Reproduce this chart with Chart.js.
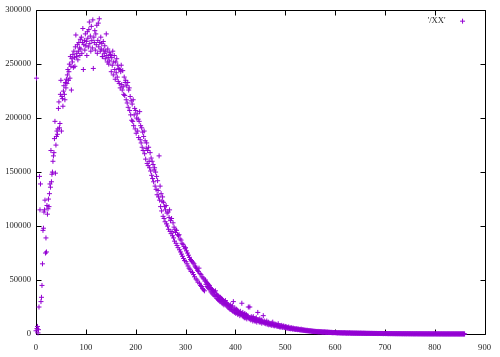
<!DOCTYPE html>
<html>
<head>
<meta charset="utf-8">
<script src="https://cdn.jsdelivr.net/npm/chart.js@4"></script>
<style>
  html, body { margin: 0; padding: 0; background: #fff; }
  canvas { display: block; }
</style>
</head>
<body>
<canvas id="c" width="500" height="357"></canvas>
<script>
// ---- data ----
const seriesLabel = "'/XX'";
const xTicks = [0, 100, 200, 300, 400, 500, 600, 700, 800, 900];
const yTicks = [0, 50000, 100000, 150000, 200000, 250000, 300000];
// counts for bins 0..860 (one value per bin)
const counts = [
  3000, 237000, 5000, 7000, 1000, 4000, 25000, 146000, 115000, 139000,
  30000, 34000, 45000, 65000, 96000, 98000, 113000, 115000, 124000, 75000,
  89000, 76000, 119000, 111000, 116000, 125000, 118000, 130000, 139000, 136000,
  170000, 141000, 148000, 150000, 160000, 165000, 168000, 181000, 197000, 149000,
  175000, 183000, 188000, 185000, 190000, 209000, 215000, 191000, 195000, 222000,
  235000, 188000, 220000, 218000, 211000, 225000, 230000, 222000, 217000, 233000,
  228000, 236000, 232000, 240000, 245000, 235000, 243000, 250000, 237000, 257000,
  248000, 226000, 255000, 252000, 259000, 247000, 262000, 256000, 248000, 266000,
  277000, 257000, 260000, 268000, 254000, 262000, 270000, 265000, 258000, 273000,
  264000, 275000, 260000, 270000, 283000, 245000, 268000, 272000, 263000, 278000,
  267000, 271000, 258000, 280000, 274000, 266000, 282000, 289000, 269000, 276000,
  262000, 285000, 272000, 265000, 291000, 246000, 275000, 270000, 281000, 263000,
  278000, 268000, 286000, 260000, 272000, 288000, 266000, 292000, 270000, 262000,
  275000, 264000, 269000, 257000, 257000, 271000, 263000, 260000, 267000, 255000,
  262000, 278000, 258000, 252000, 264000, 256000, 250000, 261000, 253000, 259000,
  258000, 243000, 256000, 249000, 262000, 240000, 252000, 258000, 245000, 236000,
  252000, 242000, 255000, 238000, 249000, 234000, 246000, 232000, 245000, 228000,
  243000, 249000, 231000, 226000, 244000, 229000, 222000, 238000, 221000, 233000,
  235000, 217000, 230000, 214000, 233000, 210000, 226000, 228000, 207000, 220000,
  203000, 216000, 198000, 213000, 197000, 217000, 193000, 203000, 209000, 190000,
  207000, 186000, 200000, 204000, 188000, 199000, 182000, 197000, 206000, 180000,
  193000, 177000, 191000, 173000, 187000, 170000, 183000, 188000, 167000, 179000,
  162000, 172000, 177000, 158000, 170000, 156000, 173000, 160000, 154000, 168000,
  151000, 163000, 147000, 160000, 144000, 157000, 141000, 152000, 154000, 137000,
  150000, 134000, 146000, 129000, 142000, 133000, 127000, 165000, 124000, 137000,
  118000, 130000, 114000, 123000, 127000, 109000, 122000, 107000, 118000, 104000,
  115000, 119000, 102000, 112000, 100000, 113000, 97000, 108000, 115000, 95000,
  105000, 93000, 107000, 95000, 91000, 103000, 89000, 99000, 86000, 97000,
  94000, 84000, 96000, 82000, 92000, 80000, 91000, 92000, 78000, 88000,
  76000, 87000, 74000, 84000, 72000, 83000, 70000, 81000, 68000, 79000,
  80000, 67000, 77000, 65000, 75000, 63000, 73000, 61000, 71000, 60000,
  69000, 58000, 68000, 67000, 57000, 66000, 55000, 65000, 53000, 63000,
  62000, 51000, 61000, 50000, 59000, 48000, 58000, 61000, 47000, 56000,
  45000, 55000, 44000, 53000, 42000, 52000, 41000, 51000, 40000, 49000,
  50000, 46000, 48000, 44000, 47000, 43000, 46000, 42000, 45000, 41000,
  43000, 39000, 42000, 38000, 41000, 37000, 40000, 36000, 39000, 35000,
  40000, 35000, 37000, 33000, 36000, 32000, 35000, 31000, 34000, 30000,
  34000, 30000, 33000, 29000, 32000, 28000, 31000, 27000, 30000, 28000,
  31000, 27000, 29000, 26000, 28000, 25000, 27000, 24000, 26000, 23000,
  27000, 23000, 25000, 22000, 26000, 21000, 30000, 23000, 20000, 24000,
  22000, 19000, 23000, 20000, 22000, 18000, 21000, 19000, 20000, 17000,
  21000, 18000, 19000, 28500, 17000, 20000, 16000, 18000, 15000, 19000,
  17000, 15000, 18000, 14000, 16000, 17000, 25000, 15000, 14000, 25000,
  15000, 13000, 16000, 14000, 15000, 12000, 16000, 13000, 14000, 12000,
  14000, 12000, 15000, 11000, 13000, 20000, 12000, 13000, 11000, 14000,
  12000, 11000, 13000, 10000, 12000, 11000, 17000, 10500, 12000, 10000,
  11000, 9500, 10500, 12000, 9000, 10000, 11000, 8500, 10000, 9000,
  9500, 8500, 10000, 8000, 9000, 11000, 8000, 9000, 7500, 8500,
  8000, 9000, 7500, 8500, 7000, 8000, 9500, 7000, 7500, 6500,
  7500, 6500, 7000, 8000, 6000, 7000, 6500, 7500, 6000, 6500,
  6000, 7000, 5500, 6500, 5500, 6000, 5000, 6500, 5500, 5000,
  5500, 4800, 6000, 5000, 5200, 4500, 5500, 4700, 5000, 4400,
  4800, 4200, 5000, 4300, 4600, 4000, 4700, 4100, 4300, 3800,
  4200, 3700, 4500, 3600, 4000, 3500, 3900, 3400, 3700, 3300,
  3600, 3100, 3400, 3000, 3500, 2900, 3200, 2800, 3100, 2700,
  3000, 2700, 2900, 2500, 2800, 2400, 2700, 2300, 2600, 2200,
  2500, 2200, 2400, 2100, 2300, 2000, 2400, 1900, 2200, 2000,
  2100, 1900, 2200, 1800, 2000, 1700, 1900, 1800, 1700, 1900,
  1800, 1600, 1900, 1500, 1700, 1600, 1800, 1400, 1600, 1500,
  1500, 1400, 1600, 1300, 1500, 1200, 1400, 1300, 1200, 1400,
  1300, 1200, 1400, 1100, 1300, 1000, 1200, 1100, 1300, 1000,
  1200, 1000, 1100, 1000, 1200, 900, 1100, 1000, 900, 1100,
  1000, 900, 1100, 800, 1000, 900, 1000, 800, 900, 1000,
  900, 800, 950, 750, 900, 800, 850, 700, 900, 750,
  800, 700, 850, 750, 800, 650, 800, 700, 750, 650,
  750, 700, 800, 650, 700, 600, 750, 650, 700, 600,
  700, 600, 650, 550, 650, 600, 550, 650, 500, 600,
  600, 550, 500, 600, 550, 500, 600, 450, 550, 500,
  550, 450, 500, 550, 450, 500, 400, 500, 450, 500,
  450, 500, 400, 450, 500, 400, 450, 400, 350, 450,
  450, 400, 350, 450, 400, 350, 400, 300, 400, 350,
  400, 350, 300, 350, 400, 300, 350, 300, 350, 300,
  350, 300, 250, 350, 300, 300, 250, 300, 350, 250,
  300, 250, 300, 250, 300, 200, 250, 300, 250, 200,
  250, 300, 200, 250, 200, 250, 300, 200, 250, 200,
  250, 200, 250, 200, 150, 250, 200, 200, 150, 200,
  200, 150, 200, 250, 150, 200, 150, 200, 150, 200,
  150, 200, 150, 200, 150, 100, 200, 150, 150, 100,
  150, 200, 100, 150, 150, 100, 150, 100, 200, 150,
  100, 150, 100, 150, 100, 150, 100, 100, 150, 100,
  150, 100, 150, 100, 100, 150, 50, 100, 150, 100,
  100, 50, 100, 150, 100, 100, 50, 100, 100, 50,
  100, 100, 50, 100, 50, 100, 100, 50, 100, 50,
  100, 50, 50, 100, 50, 100, 50, 50, 100, 50,
  50, 100, 50, 50, 100, 50, 50, 100, 50, 50,
  50, 50, 100, 50, 50, 50, 100, 50, 50, 0,
  50
];

// ---- chart ----
const PURPLE = '#9400d3';
const FONT = { family: "'Liberation Serif', 'DejaVu Serif', serif", size: 8.6 };

const points = counts.map((v, i) => ({ x: i, y: v }));

const framePlugin = {
  id: 'gnuFrame',
  beforeDatasetsDraw(chart) {
    const { ctx, chartArea: a, scales: { x, y } } = chart;
    const L = Math.round(a.left) + 0.5, R = Math.round(a.right) + 0.5;
    const T = Math.round(a.top) + 0.5, B = Math.round(a.bottom) + 0.5;
    const tl = 5;
    ctx.save();
    ctx.strokeStyle = '#000';
    ctx.lineWidth = 1;
    ctx.beginPath();
    ctx.moveTo(L, T); ctx.lineTo(R, T); ctx.lineTo(R, B); ctx.lineTo(L, B); ctx.closePath();
    xTicks.forEach(v => {
      const px = Math.round(x.getPixelForValue(v)) + 0.5;
      ctx.moveTo(px, B); ctx.lineTo(px, B - tl);
      ctx.moveTo(px, T); ctx.lineTo(px, T + tl);
    });
    yTicks.forEach(v => {
      const py = Math.round(y.getPixelForValue(v)) + 0.5;
      ctx.moveTo(L, py); ctx.lineTo(L + tl, py);
      ctx.moveTo(R, py); ctx.lineTo(R - tl, py);
    });
    ctx.stroke();
    ctx.restore();
  },
  afterDraw(chart) {
    const { ctx, chartArea: a } = chart;
    const ds = chart.data.datasets[0];
    ctx.save();
    ctx.font = FONT.size + 'px ' + FONT.family;
    ctx.fillStyle = '#222';
    ctx.textAlign = 'right';
    ctx.textBaseline = 'middle';
    const ly = a.top + 11;
    ctx.fillText(ds.label, a.right - 39, ly);
    ctx.strokeStyle = PURPLE;
    ctx.lineWidth = 1;
    const mx = a.right - 22, r = 2.5;
    ctx.beginPath();
    ctx.moveTo(mx - r, ly); ctx.lineTo(mx + r, ly);
    ctx.moveTo(mx, ly - r); ctx.lineTo(mx, ly + r);
    ctx.stroke();
    ctx.restore();
  }
};

new Chart(document.getElementById('c'), {
  type: 'scatter',
  data: {
    datasets: [{
      label: seriesLabel,
      data: points,
      pointStyle: 'cross',
      pointRadius: 2.5,
      pointBorderWidth: 1,
      borderColor: PURPLE,
      backgroundColor: PURPLE,
      showLine: false,
      clip: false
    }]
  },
  options: {
    responsive: false,
    animation: false,
    events: [],
    layout: { padding: { top: 8, right: 12, left: 0, bottom: 0 } },
    plugins: { legend: { display: false }, tooltip: { enabled: false } },
    scales: {
      x: {
        type: 'linear',
        min: 0, max: 900,
        afterFit: s => { s.height = 23; },
        afterBuildTicks: s => { s.ticks = xTicks.map(v => ({ value: v })); },
        grid: { display: false, drawTicks: false },
        border: { display: false },
        ticks: { font: FONT, color: '#222', padding: 9, maxRotation: 0, autoSkip: false }
      },
      y: {
        type: 'linear',
        min: 0, max: 300000,
        afterFit: s => { s.width = 36; },
        afterBuildTicks: s => { s.ticks = yTicks.map(v => ({ value: v })); },
        grid: { display: false, drawTicks: false },
        border: { display: false },
        ticks: { font: FONT, color: '#222', padding: 5, autoSkip: false,
                 callback: v => String(v) }
      }
    }
  },
  plugins: [framePlugin]
});
</script>
</body>
</html>
